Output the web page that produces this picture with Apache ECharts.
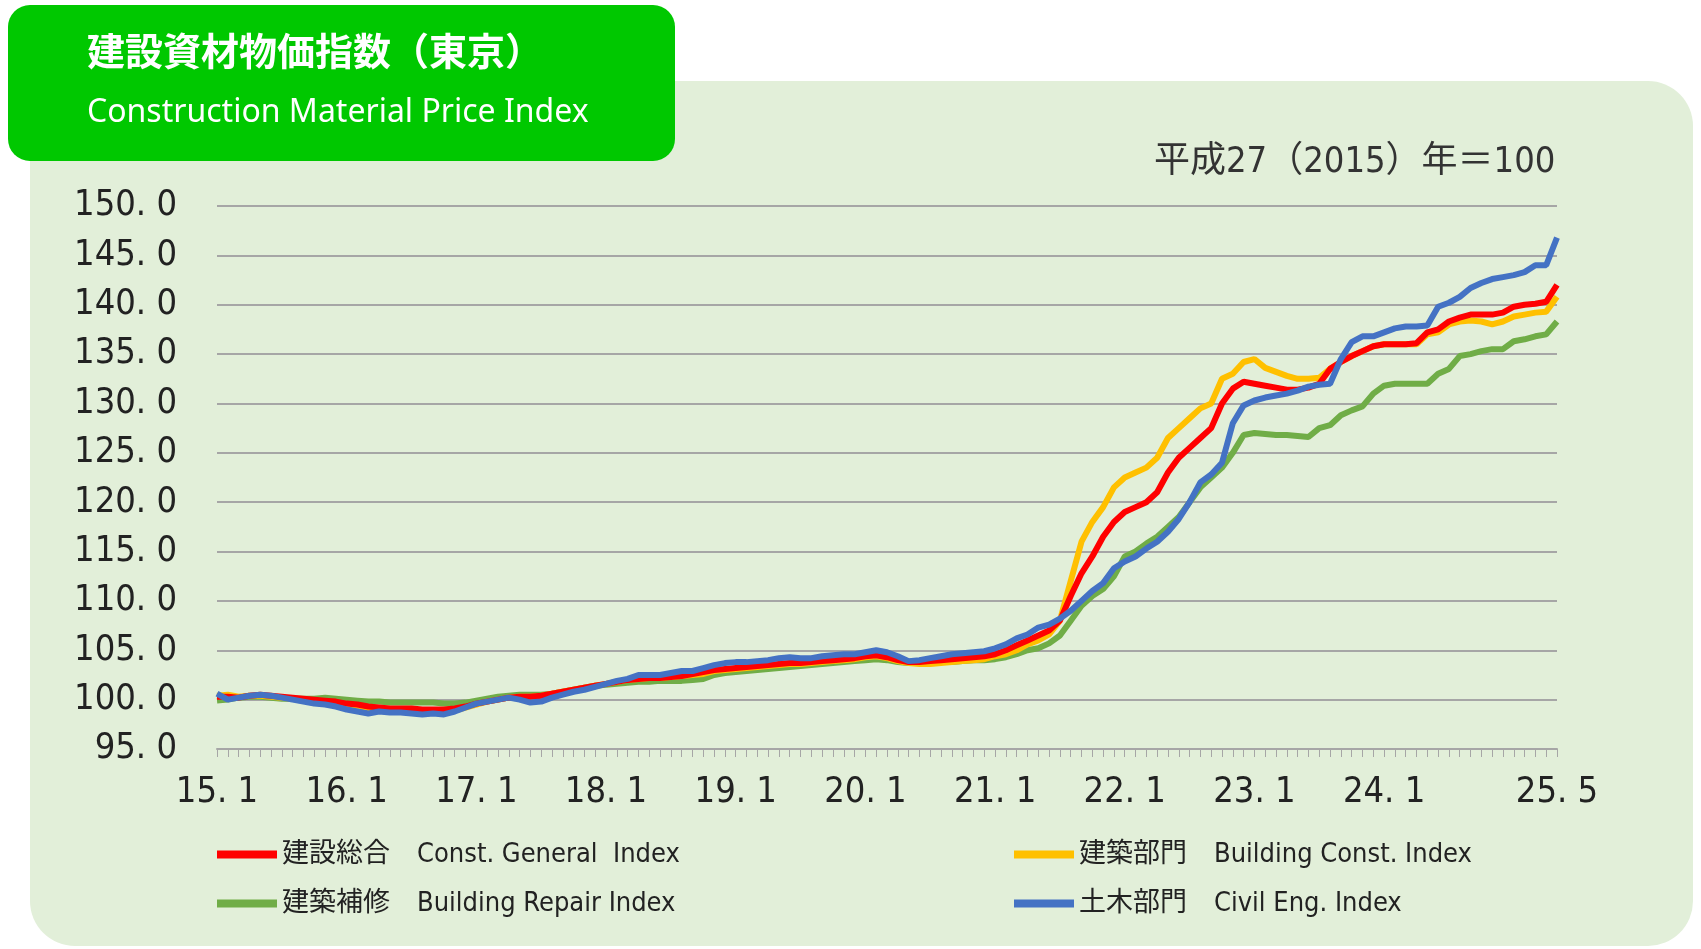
<!DOCTYPE html>
<html>
<head>
<meta charset="UTF-8">
<title>建設資材物価指数（東京）</title>
<script src="https://cdn.jsdelivr.net/npm/echarts@6/dist/echarts.min.js"></script>
<style>
  html, body { margin:0; padding:0; background:#fff; }
  #chart { width:1701px; height:949px; }
</style>
</head>
<body>
<div id="chart"></div>
<script>
// 月次 2015.1 - 2025.5
var months = [];
for (var y = 15; y <= 25; y++) {
  for (var m = 1; m <= 12; m++) {
    if (y == 25 && m > 5) break;
    months.push(y + '. ' + m);
  }
}

var general = [
  100.3,100.3,100.2,100.4,100.5,100.4,100.3,100.2,100.1,100.0,99.9,99.8,
  99.6,99.5,99.3,99.2,99.1,99.1,99.1,99.0,99.0,99.0,99.1,99.3,
  99.6,99.8,100.0,100.2,100.3,100.3,100.4,100.6,100.8,101.0,101.2,101.4,
  101.6,101.8,102.0,102.1,102.2,102.2,102.3,102.4,102.6,102.8,103.0,103.1,
  103.2,103.3,103.4,103.5,103.6,103.7,103.7,103.8,103.9,104.0,104.1,104.2,
  104.4,104.5,104.3,104.0,103.8,103.8,103.9,104.0,104.1,104.2,104.3,104.4,
  104.6,105.0,105.5,106.0,106.5,107.0,108.0,110.5,112.8,114.5,116.5,118.0,
  119.0,119.5,120.0,121.0,123.0,124.5,125.5,126.5,127.5,130.0,131.5,132.2,
  132.0,131.8,131.6,131.4,131.4,131.6,132.0,133.5,134.2,134.8,135.3,135.8,
  136.0,136.0,136.0,136.1,137.2,137.5,138.3,138.7,139.0,139.0,139.0,139.2,
  139.8,140.0,140.1,140.3,142.0
];
var building = [
  100.4,100.5,100.3,100.4,100.4,100.3,100.2,100.1,99.9,99.8,99.7,99.6,
  99.4,99.3,99.1,99.0,98.9,98.9,98.9,98.8,98.8,98.8,98.9,99.2,
  99.5,99.8,100.0,100.2,100.3,100.3,100.4,100.6,100.8,101.0,101.2,101.4,
  101.6,101.8,102.0,102.1,102.2,102.2,102.3,102.4,102.5,102.6,102.9,103.0,
  103.1,103.2,103.3,103.4,103.5,103.6,103.6,103.7,103.8,103.9,104.0,104.1,
  104.3,104.4,104.2,103.9,103.7,103.6,103.6,103.7,103.8,103.9,104.0,104.1,
  104.4,104.6,105.0,105.6,106.0,106.6,108.0,112.0,116.0,118.0,119.5,121.5,
  122.5,123.0,123.5,124.5,126.5,127.5,128.5,129.5,130.0,132.5,133.0,134.2,
  134.5,133.6,133.2,132.8,132.5,132.5,132.6,133.5,134.2,134.8,135.3,135.8,
  136.0,136.0,136.0,136.0,137.0,137.2,138.0,138.3,138.4,138.3,138.0,138.3,
  138.8,139.0,139.2,139.3,140.8
];
var repair = [
  99.9,100.0,100.2,100.3,100.3,100.2,100.1,100.1,100.1,100.1,100.2,100.1,
  100.0,99.9,99.8,99.8,99.7,99.7,99.7,99.7,99.7,99.6,99.6,99.7,
  99.9,100.1,100.3,100.4,100.5,100.5,100.5,100.6,100.8,101.0,101.2,101.4,
  101.5,101.6,101.7,101.8,101.8,101.9,101.9,101.9,102.0,102.1,102.5,102.7,
  102.8,102.9,103.0,103.1,103.2,103.3,103.4,103.5,103.6,103.7,103.8,103.9,
  104.0,104.1,104.0,103.8,103.7,103.7,103.7,103.8,103.8,103.9,104.0,104.0,
  104.1,104.3,104.6,105.0,105.2,105.7,106.5,108.0,109.5,110.5,111.2,112.5,
  114.5,115.0,115.8,116.5,117.5,118.5,120.0,121.5,122.5,123.5,125.0,126.8,
  127.0,126.9,126.8,126.8,126.7,126.6,127.5,127.8,128.8,129.3,129.7,131.0,
  131.8,132.0,132.0,132.0,132.0,133.0,133.5,134.8,135.0,135.3,135.5,135.5,
  136.3,136.5,136.8,137.0,138.3
];
var civil = [
  100.6,100.0,100.2,100.4,100.5,100.4,100.2,100.0,99.8,99.6,99.5,99.3,
  99.0,98.8,98.6,98.8,98.7,98.7,98.6,98.5,98.6,98.5,98.8,99.2,
  99.6,99.8,100.0,100.2,100.0,99.7,99.8,100.2,100.5,100.8,101.0,101.3,
  101.6,101.9,102.1,102.5,102.5,102.5,102.7,102.9,102.9,103.2,103.5,103.7,
  103.8,103.8,103.9,104.0,104.2,104.3,104.2,104.2,104.4,104.5,104.6,104.6,
  104.8,105.0,104.8,104.4,103.9,104.0,104.2,104.4,104.6,104.7,104.8,104.9,
  105.2,105.6,106.2,106.6,107.3,107.6,108.2,109.0,110.0,111.0,111.8,113.3,
  114.0,114.5,115.3,116.0,117.0,118.3,120.0,122.0,122.8,124.0,128.0,129.8,
  130.3,130.6,130.8,131.0,131.3,131.7,131.9,132.0,134.5,136.2,136.8,136.8,
  137.2,137.6,137.8,137.8,137.9,139.8,140.2,140.8,141.7,142.2,142.6,142.8,
  143.0,143.3,144.0,144.0,146.8
];

var names = ['建設総合　Const. General  Index', '建築部門　Building Const. Index',
             '建築補修　Building Repair Index', '土木部門　Civil Eng. Index'];
var colors = ['#ff0000', '#ffc000', '#70ad47', '#4472c4'];
var font = '"Liberation Sans Narrow", "DejaVu Sans Condensed", "Noto Sans CJK JP", sans-serif';

var chart = echarts.init(document.getElementById('chart'));

function line(name, data, color, z) {
  return { name: name, type: 'line', data: data, showSymbol: false, symbol: 'none',
    lineStyle: { color: color, width: 6 }, itemStyle: { color: color }, z: z };
}

var legendBase = {
  orient: 'vertical', itemWidth: 60, itemHeight: 8, itemGap: 22, icon: 'rect',
  textStyle: { fontSize: 27, color: '#222', fontFamily: font }
};

chart.setOption({
  animation: false,
  backgroundColor: '#ffffff',
  graphic: [
    { type: 'rect', z: -10, shape: { x: 30, y: 81, width: 1663, height: 865, r: 45 },
      style: { fill: '#e2efd9' } },
    { type: 'rect', z: 10, shape: { x: 8, y: 5, width: 667, height: 156, r: 22 },
      style: { fill: '#00c800' } },
    { type: 'text', z: 11, left: 87, top: 32,
      style: { text: '建設資材物価指数（東京）', fill: '#fff', fontSize: 38, fontWeight: 'bold',
        fontFamily: '"Noto Sans CJK JP", sans-serif' } },
    { type: 'text', z: 11, left: 87, top: 97,
      style: { text: 'Construction Material Price Index', fill: '#fff', fontSize: 32,
        fontFamily: '"Noto Sans", sans-serif' } },
    { type: 'text', z: 11, left: 1154, top: 145,
      style: { text: '平成27（2015）年＝100', fill: '#333', fontSize: 36,
        fontFamily: font } }
  ],
  grid: { left: 217, right: 144, top: 206, bottom: 200, containLabel: false },
  legend: [
    Object.assign({ left: 212, top: 836, data: [names[0], names[2]] }, legendBase),
    Object.assign({ left: 1009, top: 836, data: [names[1], names[3]] }, legendBase)
  ],
  xAxis: {
    type: 'category', data: months, boundaryGap: false,
    axisLine: { lineStyle: { color: '#a6a6a6', width: 2 } },
    axisTick: { interval: 0, length: 8, lineStyle: { color: '#a6a6a6' } },
    axisLabel: {
      interval: function (i) { return (i % 12 == 0 && i < 120) || i == months.length - 1; },
      margin: 26, fontSize: 36, color: '#222', fontFamily: font, hideOverlap: false
    },
    splitLine: { show: false }
  },
  yAxis: {
    type: 'value', min: 95, max: 150, interval: 5,
    axisLine: { show: false }, axisTick: { show: false },
    axisLabel: { margin: 40, fontSize: 36, color: '#222', fontFamily: font,
      formatter: function (v) { return v.toFixed(1).replace('.', '. '); } },
    splitLine: { lineStyle: { color: '#a6a6a6', width: 2 } }
  },
  series: [
    line(names[2], repair, colors[2], 2),
    line(names[1], building, colors[1], 3),
    line(names[0], general, colors[0], 4),
    line(names[3], civil, colors[3], 5)
  ]
});
</script>
</body>
</html>
